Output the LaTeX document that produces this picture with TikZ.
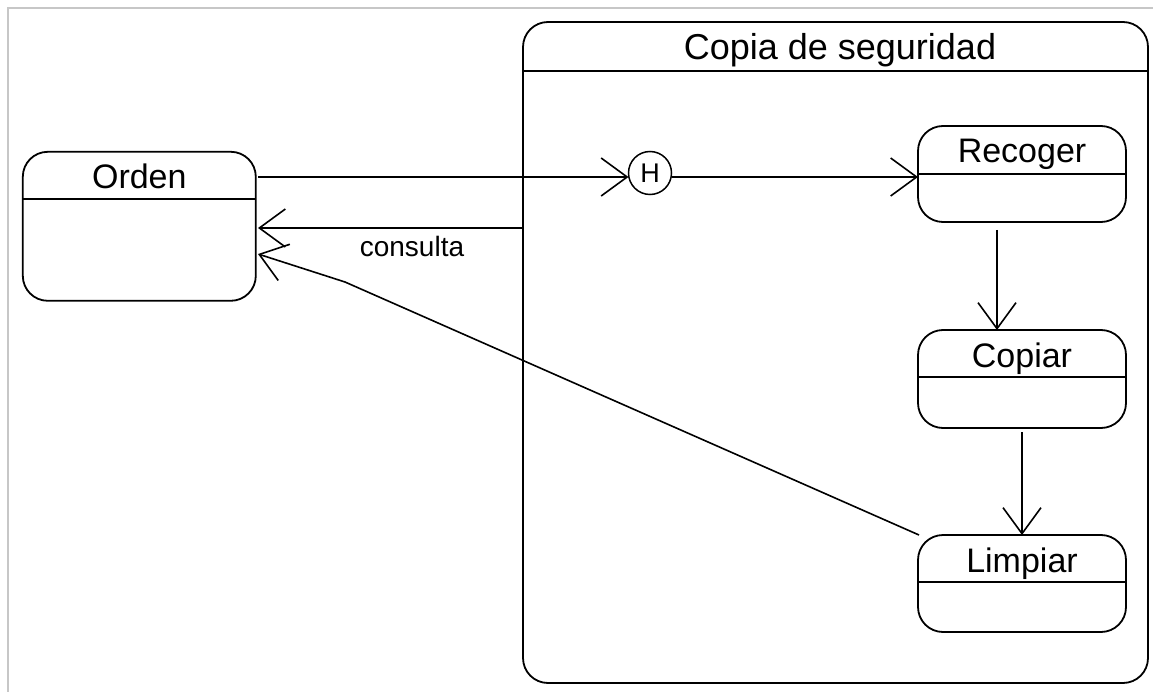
\documentclass[tikz,border=0pt]{standalone}
\usepackage{fontspec}
\setmainfont{Liberation Sans}
\usetikzlibrary{arrows.meta,calc}
\tikzset{
  statebox/.style={draw, line width=1.8pt, rounded corners=25pt, inner sep=0pt, outer sep=0pt},
  divider/.style={line width=1.8pt},
  statename/.style={anchor=base, inner sep=0pt, font=\fontsize{34}{40}\selectfont},
  hist/.style={draw, circle, line width=1.5pt, minimum size=43pt, inner sep=0pt, outer sep=0pt, font=\fontsize{27}{30}\selectfont},
  conn/.style={line width=1.6pt, -{Straight Barb[length=26pt,width=38pt,line width=1.6pt]}},
  frameline/.style={black!22, line width=1.2pt},
}
\begin{document}
\begin{tikzpicture}[x=1pt,y=-1pt]
\useasboundingbox (0,0) rectangle (1153,692);
\draw[frameline] (8,692) -- (8,8) -- (1153,8);

% Orden
\node[statebox, minimum width=233pt, minimum height=149pt] (orden) at (139.3,226.3) {};
\draw[divider] (orden.west |- 0,198.7) -- (orden.east |- 0,198.7);
\node[statename] (ordent) at (139.3,189) {Orden};

% Composite
\node[statebox, minimum width=625pt, minimum height=661pt] (comp) at (835.5,352.5) {};
\draw[divider] (comp.west |- 0,71) -- (comp.east |- 0,71);
\node[statename, font=\fontsize{36}{40}\selectfont] (compt) at (840,60) {Copia de seguridad};

% History
\node[hist] (h) at (650,173) {H};

% States
\node[statebox, minimum width=208pt, minimum height=96pt] (recoger) at (1022,174) {};
\draw[divider] (recoger.west) -- (recoger.east);
\node[statename] (recogert) at (1022,163) {Recoger};

\node[statebox, minimum width=208pt, minimum height=98pt] (copiar) at (1022,379) {};
\draw[divider] (copiar.west |- 0,377) -- (copiar.east |- 0,377);
\node[statename] (copiart) at (1022,367) {Copiar};

\node[statebox, minimum width=208pt, minimum height=97pt] (limpiar) at (1022,583.5) {};
\draw[divider] (limpiar.west |- 0,582) -- (limpiar.east |- 0,582);
\node[statename] (limpiart) at (1022,572) {Limpiar};

% Connectors
\coordinate (o1) at (258,177);
\draw[conn] (o1) -- (h.west |- o1);
\draw[conn] (h.east |- o1) -- (recoger.west |- o1);
\draw[conn] ([xshift=-25pt,yshift=-8pt]recoger.south) -- ([xshift=-25pt]copiar.north);
\draw[conn] ([yshift=-4pt]copiar.south) -- (limpiar.north);

\coordinate (c1) at (523,228);
\coordinate (c2) at (258,228);
\draw[conn] (c1) -- (c2);
\node[anchor=base, inner sep=0pt, font=\fontsize{28}{32}\selectfont] (cons) at (412,257) {consulta};

\coordinate (bend) at (345,282);
\coordinate (l2) at (258,254);
\draw[conn] ([xshift=1pt]limpiar.north west) -- (bend) -- (l2);
\end{tikzpicture}
\end{document}
